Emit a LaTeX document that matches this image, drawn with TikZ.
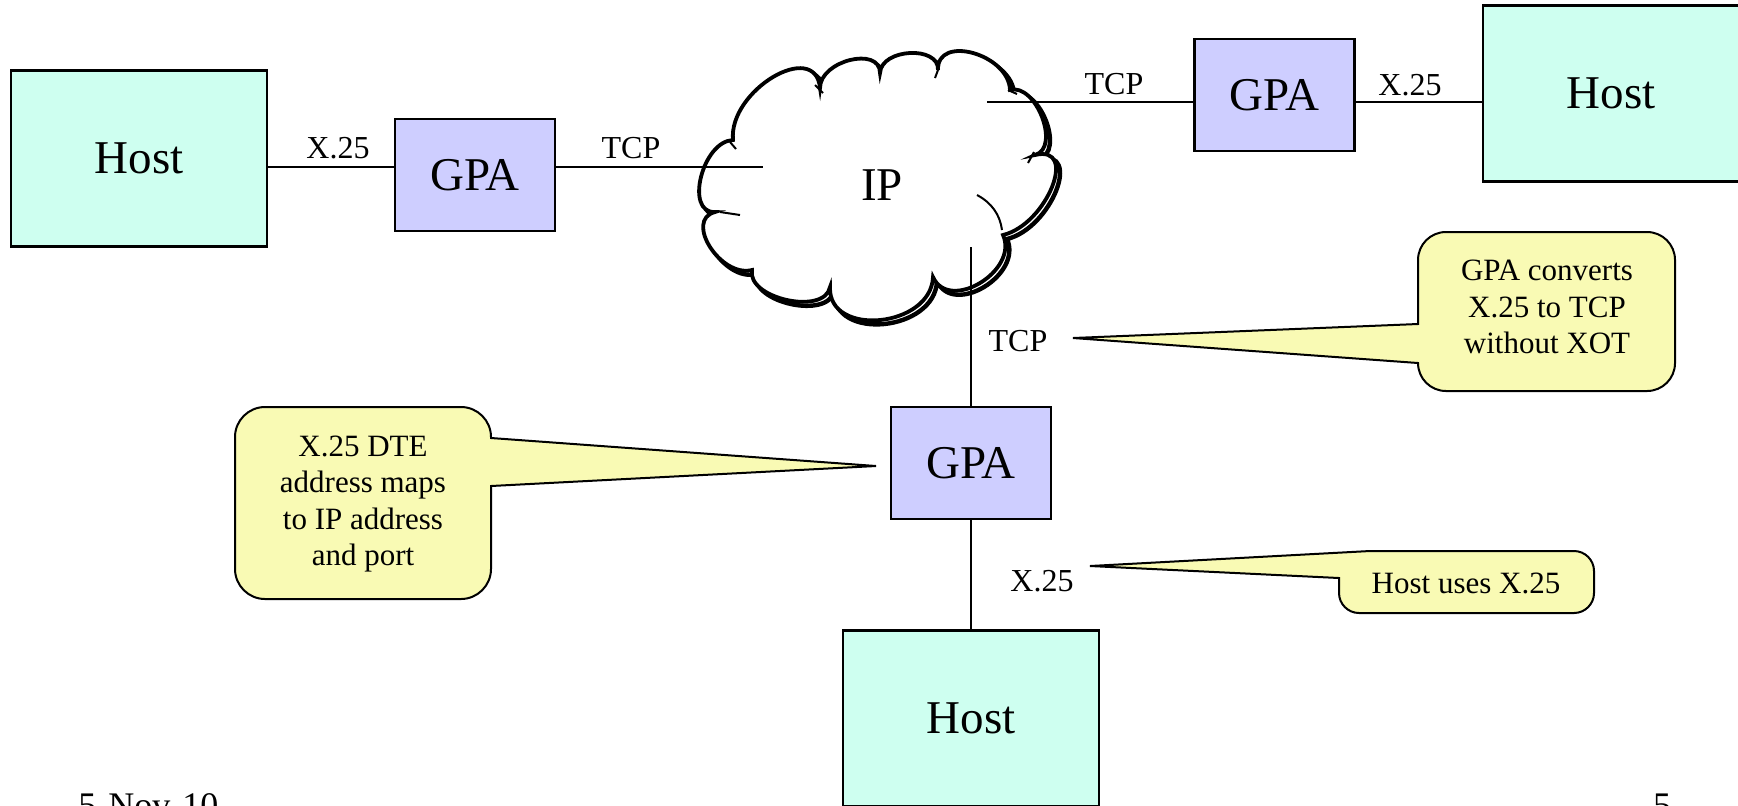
\documentclass[tikz,border=0pt]{standalone}
\usepackage{fontspec}
\setmainfont{Liberation Serif}
\definecolor{hostc}{RGB}{206,255,240}
\definecolor{gpac}{RGB}{206,206,255}
\definecolor{callc}{RGB}{249,250,180}
\newcommand\cloudshape[1]{%
\draw[#1] (715,212) .. controls (684.3,213.3) and (702.3,141.3) .. (733,140)
 .. controls (728.3,90.7) and (815.3,38.7) .. (820,88)
 .. controls (820,60.7) and (880,45.7) .. (880,73)
 .. controls (881.3,48.3) and (939.3,45.3) .. (938,70)
 .. controls (936.7,34) and (1008.7,54) .. (1010,90)
 .. controls (1036,82.7) and (1061,147.7) .. (1035,155)
 .. controls (1079,144.3) and (1047,224.3) .. (1003,235)
 .. controls (1019,271) and (949,313) .. (933,277)
 .. controls (931,327.7) and (828,337.7) .. (830,287)
 .. controls (824.7,315.7) and (746.7,298.7) .. (752,270)
 .. controls (720.7,278) and (683.7,220) .. cycle;}
\tikzset{
 bigfont/.style={font=\fontsize{23.5}{28}\selectfont},
 hostbox/.style={draw, line width=1.2pt, fill=hostc, minimum width=128pt, minimum height=88pt, inner sep=0pt, bigfont},
 gpabox/.style={draw, line width=1.2pt, fill=gpac, minimum width=80pt, minimum height=56pt, inner sep=0pt, bigfont},
 lbl/.style={font=\fontsize{16}{19}\selectfont, inner sep=0pt},
 conn/.style={line width=1pt},
 callout/.style={draw, line width=1pt, fill=callc, line join=miter},
 ctext/.style={align=center, font=\fontsize{15.5}{18.25}\selectfont, inner sep=0pt},
 foot/.style={font=\fontsize{18}{21}\selectfont, inner sep=0pt},
 tick/.style={line width=1pt},
}
\begin{document}
\begin{tikzpicture}[x=0.5pt, y=-0.5pt]
\useasboundingbox (0,0) rectangle (1738,805);
% cloud
\cloudshape{line width=2.2pt, shift={(4,4)}}
\cloudshape{line width=1.9pt, fill=white}
\draw[tick] (977,195) .. controls (992,203) and (1000,215) .. (1002,230);
\draw[tick] (720,212) -- (740,215);
\draw[tick] (730,142) -- (736,149);
\draw[tick] (815,85) -- (823,93);
\draw[tick] (938,70) -- (935,78);
\draw[tick] (1008,90) -- (1017,94);
\draw[tick] (1034,152) -- (1028,163);
\node[bigfont, inner sep=0pt] (ip) at (882,185) {IP};
% boxes
\node[hostbox] (hostL) at (139,158.5) {Host};
\node[gpabox] (gpaL) at (475,175) {GPA};
\node[gpabox] (gpaR) at (1274.5,95) {GPA};
\node[hostbox] (hostR) at (1611,93.5) {Host};
\node[gpabox] (gpaB) at (971,463) {GPA};
\node[hostbox] (hostB) at (971,718.5) {Host};
% connectors
\coordinate (yL) at (0,167);
\coordinate (ipL) at (763,167);
\coordinate (ipR) at (987,102);
\coordinate (ipB) at (971,247);
\draw[conn] (hostL.east |- yL) -- (gpaL.west |- yL);
\draw[conn] (gpaL.east |- yL) -- (ipL);
\draw[conn] (ipR) -- (gpaR.west |- ipR);
\draw[conn] (gpaR.east |- ipR) -- (hostR.west |- ipR);
\draw[conn] (ipB) -- (gpaB.north);
\draw[conn] (gpaB.south) -- (hostB.north);
% labels
\node[lbl] (lx1) at (338,148) {X.25};
\node[lbl] (lt1) at (631,148) {TCP};
\node[lbl] (lt2) at (1114,84) {TCP};
\node[lbl] (lx2) at (1410,85) {X.25};
\node[lbl] (lt3) at (1018,341) {TCP};
\node[lbl] (lx3) at (1042,581) {X.25};
% callouts
\draw[callout] (1418,324) -- (1073,338) -- (1418,363)
  .. controls +(0,15.5) and +(-15.5,0) .. (1446,391) -- (1647,391)
  .. controls +(15.5,0) and +(0,15.5) .. (1675,363) -- (1675,260)
  .. controls +(0,-15.5) and +(15.5,0) .. (1647,232) -- (1446,232)
  .. controls +(-15.5,0) and +(0,-15.5) .. (1418,260) -- cycle;
\node[ctext] (c1t) at (1547,307) {GPA converts\\X.25 to TCP\\without XOT};
\draw[callout] (491,438) -- (876,466) -- (491,486) -- (491,569)
  .. controls +(0,16.5) and +(16.5,0) .. (461,599) -- (265,599)
  .. controls +(-16.5,0) and +(0,16.5) .. (235,569) -- (235,437)
  .. controls +(0,-16.5) and +(-16.5,0) .. (265,407) -- (461,407)
  .. controls +(16.5,0) and +(0,-16.5) .. (491,437) -- cycle;
\node[ctext] (c2t) at (363,504) {X.25 DTE\\address maps\\to IP address\\and port};
\draw[callout] (1339,578) -- (1090,566) -- (1370,551) -- (1574,551)
  .. controls +(11,0) and +(0,-11) .. (1594,571) -- (1594,593)
  .. controls +(0,11) and +(11,0) .. (1574,613) -- (1359,613)
  .. controls +(-11,0) and +(0,11) .. (1339,593) -- cycle;
\node[ctext] (c3t) at (1466,583) {Host uses X.25};
% footer
\node[foot, anchor=base west] (date) at (78,817) {5-Nov-10};
\node[foot, anchor=base] (pnum) at (1662,817) {5};
\end{tikzpicture}
\end{document}
